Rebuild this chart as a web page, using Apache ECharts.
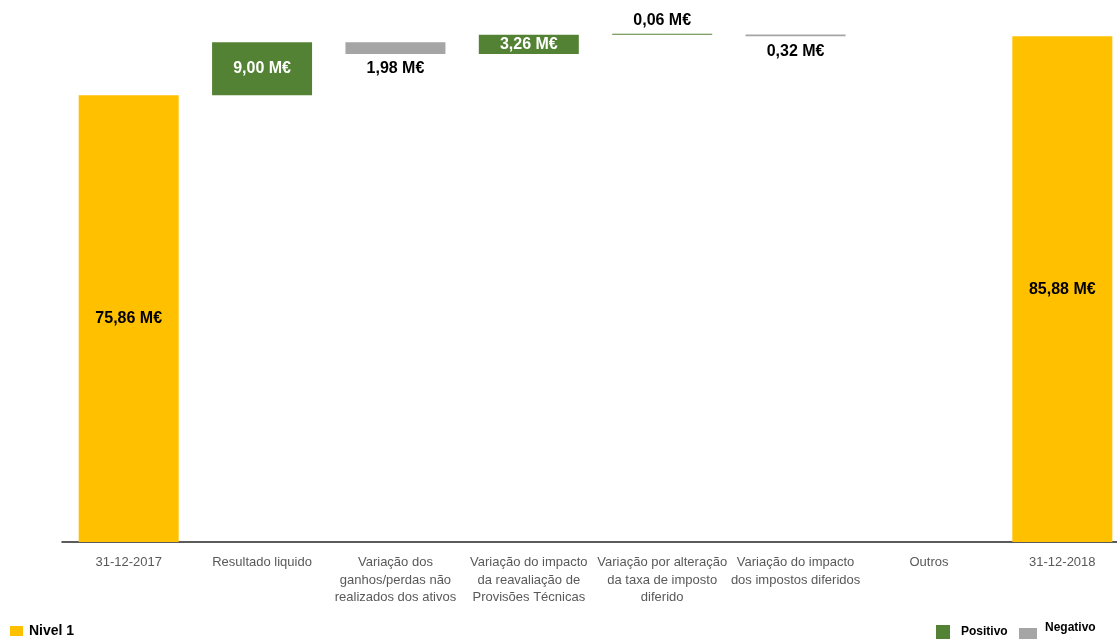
<!DOCTYPE html>
<html>
<head>
<meta charset="utf-8">
<script src="https://cdn.jsdelivr.net/npm/echarts@6/dist/echarts.min.js"></script>
<style>html,body{margin:0;padding:0;background:#fff;}#c{width:1117px;height:640px;}</style>
</head>
<body>
<div id="c"></div>
<script>
var categories = ['31-12-2017', 'Resultado liquido', 'Variação dos\nganhos/perdas não\nrealizados dos ativos', 'Variação do impacto\nda reavaliação de\nProvisões Técnicas', 'Variação por alteração\nda taxa de imposto\ndiferido', 'Variação do impacto\ndos impostos diferidos', 'Outros', '31-12-2018'];
var startValue = 75.86;
var changes = [9.00, -1.98, 3.26, 0.06, -0.32, 0];
var endValue = 85.88;

function fmt(v) { return Math.abs(v).toFixed(2).replace('.', ',') + ' M€'; }

var base = [], totals = [], pos = [], neg = [];
totals.push({ value: startValue });
base.push(0); pos.push('-'); neg.push('-');
var running = startValue;
changes.forEach(function (d) {
  totals.push('-');
  if (d > 0) {
    base.push(running);
    pos.push({ value: d, label: { position: d >= 3 ? 'inside' : 'top', color: d >= 3 ? '#fff' : '#000', distance: 5 } });
    neg.push('-');
  } else if (d < 0) {
    base.push(running + d);
    neg.push({ value: -d, label: { position: 'bottom', color: '#000', distance: 7 } });
    pos.push('-');
  } else {
    base.push('-'); pos.push('-'); neg.push('-');
  }
  running += d;
});
totals.push({ value: endValue });
base.push(0); pos.push('-'); neg.push('-');

var FF = 'Liberation Sans, Arial, sans-serif';
var labelFont = { fontFamily: FF, fontWeight: 'bold', fontSize: 16 };
var legText = { fontFamily: FF, fontWeight: 'bold', fontSize: 12, color: '#000' };

var chart = echarts.init(document.getElementById('c'), null, { renderer: 'canvas' });
chart.setOption({
  animation: false,
  backgroundColor: '#fff',
  grid: { left: 62, width: 1067, top: 12, bottom: 98, outerBoundsMode: 'none', containLabel: false },
  legend: [
    { data: ['Nivel 1'], left: 10, bottom: 2, padding: 0, icon: 'rect', itemWidth: 13, itemHeight: 10,
      textStyle: Object.assign({}, legText, { fontSize: 14, padding: [0, 0, 0, 1] }) },
    { data: ['Positivo'], left: 936, bottom: 1, padding: 0, icon: 'rect', itemWidth: 14, itemHeight: 14,
      textStyle: Object.assign({ padding: [0, 0, 0, 6] }, legText) },
    { data: ['Negativo'], left: 1019, bottom: 1, padding: 0, icon: 'rect', itemWidth: 18, itemHeight: 11,
      formatter: function (name) { return '{r|' + name + '}'; },
      textStyle: Object.assign({ rich: { r: Object.assign({ padding: [0, 0, 12, 3] }, legText) } }, legText) }
  ],
  xAxis: {
    type: 'category', data: categories,
    axisTick: { show: false },
    axisLine: { lineStyle: { color: '#262626', width: 1.5 } },
    axisLabel: { interval: 0, color: '#595959', fontSize: 13, lineHeight: 17.5, margin: 12, fontFamily: FF }
  },
  yAxis: { type: 'value', min: 0, max: 90, show: false, splitLine: { show: false } },
  series: [
    { name: 'base', type: 'bar', stack: 'w', data: base, barWidth: 100,
      itemStyle: { color: 'transparent' }, silent: true, label: { show: false } },
    { name: 'Nivel 1', type: 'bar', stack: 'w', data: totals, barWidth: 100,
      itemStyle: { color: '#FFC000' },
      label: Object.assign({ show: true, position: 'inside', color: '#000', formatter: function (p) { return fmt(p.value); } }, labelFont) },
    { name: 'Positivo', type: 'bar', stack: 'w', data: pos, barWidth: 100, barMinHeight: 1,
      itemStyle: { color: '#548235' },
      label: Object.assign({ show: true, formatter: function (p) { return fmt(p.value); } }, labelFont) },
    { name: 'Negativo', type: 'bar', stack: 'w', data: neg, barWidth: 100, barMinHeight: 1,
      itemStyle: { color: '#A5A5A5' },
      label: Object.assign({ show: true, formatter: function (p) { return fmt(p.value); } }, labelFont) }
  ]
});
</script>
</body>
</html>
